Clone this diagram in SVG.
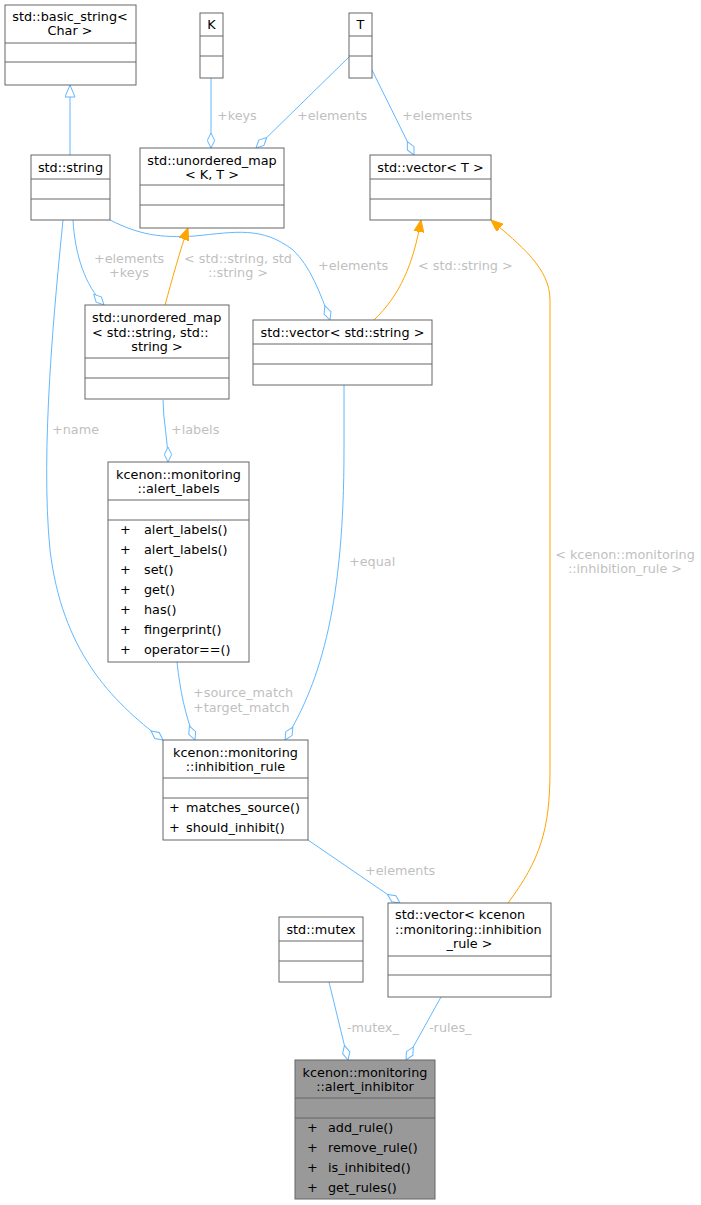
<svg xmlns="http://www.w3.org/2000/svg" width="701" height="1205" viewBox="0 0 701 1205">
<style>
text{font-family:"DejaVu Sans",sans-serif;font-size:12.8px;fill:#000}
.n rect{fill:#fff;stroke:#666;stroke-width:1}
.n line{stroke:#666;stroke-width:1}
.c{text-anchor:middle}
.e path{fill:none;stroke:#63b8ff;stroke-width:1}
.e path.o{stroke:#ffa500}
.lb{fill:#bfbfbf}
</style>
<defs>
<marker id="dia" viewBox="0 0 16 9" refX="15.5" refY="4.5" markerWidth="16" markerHeight="9" markerUnits="userSpaceOnUse" orient="auto"><path d="M0.5,4.5 L8,0.8 L15.5,4.5 L8,8.2 Z" fill="#fff" stroke="#63b8ff"/></marker>
<marker id="arr" viewBox="0 0 12 10" refX="12" refY="5" markerWidth="12" markerHeight="10" markerUnits="userSpaceOnUse" orient="auto"><path d="M0,0 L12,5 L0,10 Z" fill="#ffa500" stroke="#ffa500"/></marker>
<marker id="inh" viewBox="0 0 13 11" refX="12.5" refY="5.5" markerWidth="13" markerHeight="11" markerUnits="userSpaceOnUse" orient="auto"><path d="M0.5,0.5 L12.5,5.5 L0.5,10.5 Z" fill="#fff" stroke="#63b8ff"/></marker>
</defs>
<rect width="701" height="1205" fill="#fff"/>
<g class="e" id="edges">
<path d="M70,155 L70,85" marker-end="url(#inh)"/>
<path d="M211,78 L211,148" marker-end="url(#dia)"/>
<path d="M349,57 L256,148" marker-end="url(#dia)"/>
<path d="M372,70 L414,155" marker-end="url(#dia)"/>
<path d="M73,220 C75,255 85,285 104,305" marker-end="url(#dia)"/>
<path d="M110,220 C140,235 160,238 195,236 C235,232 262,226 293,250 C310,266 320,292 330,320" marker-end="url(#dia)"/>
<path class="o" d="M165,305 C172,280 180,250 188,228" marker-end="url(#arr)"/>
<path class="o" d="M374,320 C400,295 413,265 421,220" marker-end="url(#arr)"/>
<path class="o" d="M508,903 C540,860 550,830 550,770 L550,300 C550,268 520,245 491,220" marker-end="url(#arr)"/>
<path d="M63,220 C55,300 40,450 50,550 C62,650 110,700 163,740" marker-end="url(#dia)"/>
<path d="M163,400 C163,420 168,440 168,462" marker-end="url(#dia)"/>
<path d="M177,662 C180,690 185,715 195,740" marker-end="url(#dia)"/>
<path d="M344,385 L344,450 C344,600 322,680 285,740" marker-end="url(#dia)"/>
<path d="M308,840 L400,903" marker-end="url(#dia)"/>
<path d="M329,982 L348,1060" marker-end="url(#dia)"/>
<path d="M441,997 L406,1060" marker-end="url(#dia)"/>
<text class="lb" x="217" y="120">+keys</text>
<text class="lb" x="297" y="120">+elements</text>
<text class="lb" x="402" y="120">+elements</text>
<text class="lb c" x="129" y="263">+elements</text>
<text class="lb c" x="129" y="277">+keys</text>
<text class="lb c" x="238" y="263">&lt; std::string, std</text>
<text class="lb c" x="238" y="277">::string &gt;</text>
<text class="lb" x="318" y="270">+elements</text>
<text class="lb" x="418" y="270">&lt; std::string &gt;</text>
<text class="lb" x="171" y="434">+labels</text>
<text class="lb" x="52" y="434">+name</text>
<text class="lb" x="349" y="566">+equal</text>
<text class="lb" x="193" y="697">+source_match</text>
<text class="lb" x="193" y="712">+target_match</text>
<text class="lb c" x="625" y="559">&lt; kcenon::monitoring</text>
<text class="lb c" x="625" y="573">::inhibition_rule &gt;</text>
<text class="lb" x="365" y="875">+elements</text>
<text class="lb" x="347" y="1032">-mutex_</text>
<text class="lb" x="429" y="1032">-rules_</text>
</g>
<g class="n" id="basic_string"><rect x="5" y="5" width="131" height="80"/><line x1="5" y1="43" x2="136" y2="43"/><line x1="5" y1="62" x2="136" y2="62"/><text class="c" x="70" y="21">std::basic_string&lt;</text><text class="c" x="70" y="35">Char &gt;</text></g>
<g class="n" id="K"><rect x="200" y="13" width="23" height="65"/><line x1="200" y1="36" x2="223" y2="36"/><line x1="200" y1="56" x2="223" y2="56"/><text class="c" x="211.5" y="29">K</text></g>
<g class="n" id="T"><rect x="349" y="13" width="23" height="65"/><line x1="349" y1="36" x2="372" y2="36"/><line x1="349" y1="56" x2="372" y2="56"/><text class="c" x="360.5" y="29">T</text></g>
<g class="n" id="string"><rect x="31" y="155" width="79" height="65"/><line x1="31" y1="179" x2="110" y2="179"/><line x1="31" y1="199" x2="110" y2="199"/><text class="c" x="70.5" y="172">std::string</text></g>
<g class="n" id="umap_KT"><rect x="140" y="148" width="144" height="80"/><line x1="140" y1="185" x2="284" y2="185"/><line x1="140" y1="205" x2="284" y2="205"/><text class="c" x="212" y="165">std::unordered_map</text><text class="c" x="212" y="179">&lt; K, T &gt;</text></g>
<g class="n" id="vector_T"><rect x="370" y="155" width="121" height="65"/><line x1="370" y1="179" x2="491" y2="179"/><line x1="370" y1="199" x2="491" y2="199"/><text class="c" x="430.5" y="172">std::vector&lt; T &gt;</text></g>
<g class="n" id="umap_str"><rect x="85" y="305" width="144" height="94"/><line x1="85" y1="358" x2="229" y2="358"/><line x1="85" y1="378" x2="229" y2="378"/><text x="92" y="322">std::unordered_map</text><text x="92" y="337">&lt; std::string, std::</text><text class="c" x="157" y="351">string &gt;</text></g>
<g class="n" id="vector_str"><rect x="253" y="320" width="179" height="65"/><line x1="253" y1="344" x2="432" y2="344"/><line x1="253" y1="364" x2="432" y2="364"/><text class="c" x="342.5" y="337">std::vector&lt; std::string &gt;</text></g>
<g class="n" id="alert_labels"><rect x="108" y="462" width="141" height="200"/><line x1="108" y1="500" x2="249" y2="500"/><line x1="108" y1="520" x2="249" y2="520"/><text class="c" x="178.5" y="479">kcenon::monitoring</text><text class="c" x="178.5" y="493">::alert_labels</text>
<text x="120" y="534">+</text><text x="144" y="534">alert_labels()</text>
<text x="120" y="554">+</text><text x="144" y="554">alert_labels()</text>
<text x="120" y="574">+</text><text x="144" y="574">set()</text>
<text x="120" y="594">+</text><text x="144" y="594">get()</text>
<text x="120" y="614">+</text><text x="144" y="614">has()</text>
<text x="120" y="634">+</text><text x="144" y="634">fingerprint()</text>
<text x="120" y="654">+</text><text x="144" y="654">operator==()</text></g>
<g class="n" id="inhibition_rule"><rect x="163" y="740" width="145" height="100"/><line x1="163" y1="778" x2="308" y2="778"/><line x1="163" y1="798" x2="308" y2="798"/><text class="c" x="235.5" y="757">kcenon::monitoring</text><text class="c" x="235.5" y="771">::inhibition_rule</text>
<text x="169" y="812">+</text><text x="186" y="812">matches_source()</text>
<text x="169" y="832">+</text><text x="186" y="832">should_inhibit()</text></g>
<g class="n" id="vector_rule"><rect x="388" y="903" width="163" height="94"/><line x1="388" y1="956" x2="551" y2="956"/><line x1="388" y1="975" x2="551" y2="975"/><text x="395" y="919">std::vector&lt; kcenon</text><text x="395" y="934">::monitoring::inhibition</text><text class="c" x="469.5" y="948">_rule &gt;</text></g>
<g class="n" id="mutex"><rect x="279" y="917" width="84" height="65"/><line x1="279" y1="941" x2="363" y2="941"/><line x1="279" y1="961" x2="363" y2="961"/><text class="c" x="321" y="934">std::mutex</text></g>
<g class="n" id="alert_inhibitor"><rect x="295" y="1060" width="140" height="139" style="fill:#999"/><line x1="295" y1="1098" x2="435" y2="1098"/><line x1="295" y1="1118" x2="435" y2="1118"/><text class="c" x="365" y="1077">kcenon::monitoring</text><text class="c" x="365" y="1091">::alert_inhibitor</text>
<text x="307" y="1132">+</text><text x="328" y="1132">add_rule()</text>
<text x="307" y="1152">+</text><text x="328" y="1152">remove_rule()</text>
<text x="307" y="1172">+</text><text x="328" y="1172">is_inhibited()</text>
<text x="307" y="1192">+</text><text x="328" y="1192">get_rules()</text></g>
</svg>
